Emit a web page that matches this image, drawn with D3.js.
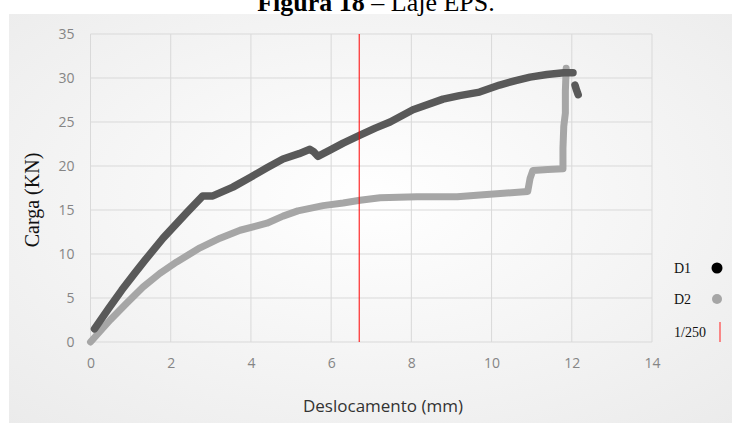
<!DOCTYPE html>
<html>
<head>
<meta charset="utf-8">
<script src="https://cdn.jsdelivr.net/npm/d3@7"></script>
<style>
  body { margin: 0; background: #fff; }
  svg { display: block; }
</style>
</head>
<body>
<svg id="chart"></svg>
<script>
// values
var d1X = [0.1, 0.45, 0.78, 1.1, 1.36, 1.81, 2.4, 2.8, 3.05, 3.55, 3.98, 4.4, 4.8, 5.2, 5.47, 5.57, 5.67, 5.97, 6.3, 6.72, 7.1, 7.47, 8.04, 8.79, 9.2, 9.7, 10.2, 10.6, 10.96, 11.38, 11.8, 12.03, null, 12.08, 12.12, 12.16]
var d1Y = [1.5, 3.8, 5.9, 7.8, 9.3, 11.8, 14.7, 16.6, 16.6, 17.6, 18.7, 19.8, 20.8, 21.4, 21.9, 21.6, 21.1, 21.8, 22.6, 23.5, 24.3, 25.0, 26.4, 27.6, 28.0, 28.4, 29.2, 29.7, 30.1, 30.4, 30.6, 30.6, null, 29.2, 28.6, 28.1]

var d2X = [0, 0.49, 0.9, 1.31, 1.73, 2.15, 2.73, 3.23, 3.73, 4.4, 4.8, 5.17, 5.8, 6.3, 6.72, 7.22, 8.14, 9.14, 9.71, 10.3, 10.9, 10.96, 11.03, 11.4, 11.78, 11.78, 11.8, 11.84, 11.84, 11.86]
var d2Y = [0, 2.5, 4.4, 6.25, 7.8, 9.1, 10.7, 11.8, 12.7, 13.5, 14.3, 14.9, 15.5, 15.8, 16.1, 16.4, 16.5, 16.5, 16.7, 16.9, 17.1, 18.6, 19.5, 19.6, 19.7, 22.0, 24.5, 26.0, 28.5, 31.1]

var limitX = 6.7
var xTicks = [0, 2, 4, 6, 8, 10, 12, 14]
var yTicks = [0, 5, 10, 15, 20, 25, 30, 35]
var legendNames = ["D1", "D2", "1/250"]

var dimensions = {
  width: 732,
  height: 423,
  margin: { top: 34, bottom: 81, right: 80, left: 90.5 }
}

var svg = d3.select("#chart")
  .attr("width", dimensions.width)
  .attr("height", dimensions.height)

// soft background of the chart box
var grad = svg.append("defs").append("radialGradient")
  .attr("id", "bg")
  .attr("cx", "50%").attr("cy", "45%").attr("r", "75%")
grad.append("stop").attr("offset", "0%").attr("stop-color", "#ffffff")
grad.append("stop").attr("offset", "100%").attr("stop-color", "#ebebeb")

svg.append("rect")
  .attr("x", 9).attr("y", 14)
  .attr("width", dimensions.width - 9)
  .attr("height", dimensions.height - 14)
  .attr("fill", "url(#bg)")

// title, cut at the top like the scan
var title = svg.append("text")
  .attr("x", 376).attr("y", 11)
  .attr("text-anchor", "middle")
  .style("font-family", "'Liberation Serif', 'Times New Roman', serif")
  .style("font-size", "26px")
title.append("tspan").style("font-weight", "bold").text("Figura 18")
title.append("tspan").text(" \u2013 Laje EPS.")

var xScale = d3.scaleLinear()
  .domain([0, 14])
  .range([dimensions.margin.left, dimensions.width - dimensions.margin.right])

var yScale = d3.scaleLinear()
  .domain([0, 35])
  .range([dimensions.height - dimensions.margin.bottom, dimensions.margin.top])

// grid
var grid = svg.append("g")
grid.selectAll(".vx")
  .data(xTicks)
  .enter()
  .append("line")
  .attr("x1", d => xScale(d)).attr("x2", d => xScale(d))
  .attr("y1", yScale(0)).attr("y2", yScale(35))
  .attr("stroke", "#d9d9d9")
grid.selectAll(".hy")
  .data(yTicks)
  .enter()
  .append("line")
  .attr("x1", xScale(0)).attr("x2", xScale(14))
  .attr("y1", d => yScale(d)).attr("y2", d => yScale(d))
  .attr("stroke", "#d9d9d9")

// axes (labels only)
var xAxisGen = d3.axisBottom().scale(xScale).tickValues(xTicks).tickSize(0).tickPadding(16)
var xAxis = svg.append("g")
  .call(xAxisGen)
  .attr("transform", `translate(0,${yScale(0)})`)

var yAxisGen = d3.axisLeft().scale(yScale).tickValues(yTicks).tickSize(0).tickPadding(16)
var yAxis = svg.append("g")
  .call(yAxisGen)
  .attr("transform", `translate(${xScale(0)},0)`)

svg.selectAll(".domain").remove()
svg.selectAll(".tick text")
  .style("font-family", "'Open Sans', sans-serif")
  .style("font-size", "14px")
  .attr("fill", "#858585")

// series
function toPoints(xs, ys) {
  return xs.map((x, i) => ({ x: x, y: ys[i] }))
}
var line = d3.line()
  .defined(d => d.x !== null)
  .x(d => xScale(d.x))
  .y(d => yScale(d.y))

svg.append("path")
  .datum(toPoints(d2X, d2Y))
  .attr("d", line)
  .attr("fill", "none")
  .attr("stroke", "#a6a6a6")
  .attr("stroke-width", 7)
  .attr("stroke-linejoin", "round")
  .attr("stroke-linecap", "round")

svg.append("path")
  .datum(toPoints(d1X, d1Y))
  .attr("d", line)
  .attr("fill", "none")
  .attr("stroke", "#595959")
  .attr("stroke-width", 7.5)
  .attr("stroke-linejoin", "round")
  .attr("stroke-linecap", "round")

// 1/250 limit
svg.append("line")
  .attr("x1", xScale(limitX)).attr("x2", xScale(limitX))
  .attr("y1", yScale(0)).attr("y2", yScale(35))
  .attr("stroke", "#ff0000")
  .attr("stroke-width", 1)

// axis titles
svg.append("text")
  .attr("x", 383).attr("y", 412)
  .attr("text-anchor", "middle")
  .style("font-family", "'Open Sans', sans-serif")
  .style("font-size", "17px")
  .attr("fill", "#333")
  .text("Deslocamento (mm)")

svg.append("text")
  .attr("transform", "translate(39, 200) rotate(-90)")
  .attr("text-anchor", "middle")
  .style("font-family", "'Liberation Serif', 'Times New Roman', serif")
  .style("font-size", "20px")
  .attr("fill", "#111")
  .text("Carga (KN)")

// legend
var legendY = [268, 299, 332]
var legend = svg.append("g")
legend.selectAll("text")
  .data(legendNames)
  .enter()
  .append("text")
  .attr("x", 674)
  .attr("y", (d, i) => legendY[i] + 5)
  .style("font-family", "'Liberation Serif', 'Times New Roman', serif")
  .style("font-size", "14px")
  .attr("fill", "#111")
  .text(d => d)

legend.append("circle").attr("cx", 717).attr("cy", legendY[0]).attr("r", 5.5).attr("fill", "#000")
legend.append("circle").attr("cx", 717).attr("cy", legendY[1]).attr("r", 5).attr("fill", "#a6a6a6")
legend.append("line")
  .attr("x1", 720).attr("x2", 720)
  .attr("y1", legendY[2] - 10).attr("y2", legendY[2] + 10)
  .attr("stroke", "#ff4040").attr("stroke-width", 1.2)
</script>
</body>
</html>
